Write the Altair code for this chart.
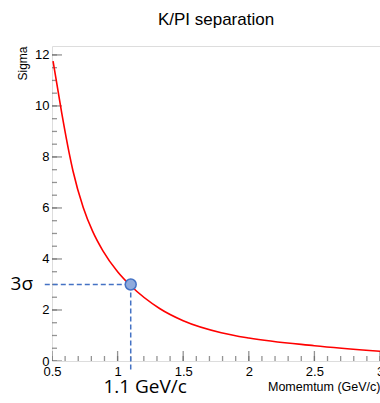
import altair as alt
import pandas as pd

# Curve
momentum = [0.508, 0.575, 0.631, 0.66, 0.738, 0.81, 0.887, 1.0, 1.1, 1.32, 1.5, 1.79, 2.0, 2.5, 3.0]
sigma = [11.76, 9.7, 8.15, 7.45, 6.02, 5.08, 4.33, 3.5, 2.95, 2.06, 1.58, 1.11, 0.9, 0.6, 0.38]

# Marked point and guides
mark_p = [1.1]
mark_s = [3.0]
hguide_x = [0.445, 1.1]
hguide_y = [3.0, 3.0]
vguide_x = [1.1, 1.1]
vguide_y = [3.0, -0.35]

# Ticks
x_major = [0.5, 1.0, 1.5, 2.0, 2.5, 3.0]
x_minor = [round(0.5 + 0.1 * i, 2) for i in range(26)]
y_major = [0, 2, 4, 6, 8, 10, 12]
y_minor = [0.5 * i for i in range(25)]

# Annotations
ann_text = ["3σ", "1.1 GeV/c"]
ann_x = [0.27, 1.21]
ann_y = [3.0, -1.02]

X_DOM = [0.5, 3.0]
Y_DOM = [0, 12.35]
xs = alt.Scale(domain=X_DOM, nice=False, zero=False)
ys = alt.Scale(domain=Y_DOM, nice=False, zero=False)

curve_df = pd.DataFrame({"p": momentum, "s": sigma})

curve = alt.Chart(curve_df).mark_line(color="#ff0000", strokeWidth=1.6, interpolate="monotone").encode(
    x=alt.X("p:Q", scale=xs, title="Momemtum (GeV/c)",
            axis=alt.Axis(values=x_major, format="~g", ticks=False, domain=False, grid=False,
                          labelFlush=False, labelPadding=4, titleAnchor="end", titlePadding=2,
                          labelFontSize=13, titleFontSize=12.5, labelFont="Liberation Sans",
                          titleFont="Liberation Sans", titleFontWeight="normal",
                          labelColor="#000", titleColor="#000")),
    y=alt.Y("s:Q", scale=ys, title="Sigma",
            axis=alt.Axis(values=y_major, ticks=False, domain=False, grid=False,
                          labelPadding=3, titleAnchor="end", titlePadding=5,
                          labelFontSize=13, titleFontSize=12, labelFont="Liberation Sans",
                          titleFont="Liberation Sans", titleFontWeight="normal",
                          labelColor="#000", titleColor="#000")),
)

tick_color = "#666666"

ymaj = alt.Chart(pd.DataFrame({"v": y_major})).mark_tick(
    orient="horizontal", size=20, thickness=1.3, color=tick_color, clip=True
).encode(x=alt.datum(0.5, scale=xs), y=alt.Y("v:Q", scale=ys))
ymin = alt.Chart(pd.DataFrame({"v": y_minor})).mark_tick(
    orient="horizontal", size=10, thickness=1.3, color=tick_color, clip=True
).encode(x=alt.datum(0.5, scale=xs), y=alt.Y("v:Q", scale=ys))
xmaj = alt.Chart(pd.DataFrame({"v": x_major})).mark_tick(
    orient="vertical", size=20, thickness=1.3, color=tick_color, clip=True
).encode(x=alt.X("v:Q", scale=xs), y=alt.datum(0, scale=ys))
xmin = alt.Chart(pd.DataFrame({"v": x_minor})).mark_tick(
    orient="vertical", size=10, thickness=1.3, color=tick_color, clip=True
).encode(x=alt.X("v:Q", scale=xs), y=alt.datum(0, scale=ys))

guide_color = "#4472C4"
hguide = alt.Chart(pd.DataFrame({"x": hguide_x, "y": hguide_y})).mark_line(
    color=guide_color, strokeWidth=1.5, strokeDash=[5, 3]
).encode(x=alt.X("x:Q", scale=xs), y=alt.Y("y:Q", scale=ys))
vguide = alt.Chart(pd.DataFrame({"x": vguide_x, "y": vguide_y})).mark_line(
    color=guide_color, strokeWidth=1.5, strokeDash=[5, 3]
).encode(x=alt.X("x:Q", scale=xs), y=alt.Y("y:Q", scale=ys))

pt = alt.Chart(pd.DataFrame({"p": mark_p, "s": mark_s})).mark_point(
    filled=True, size=120, fill="#8FAADC", stroke=guide_color, strokeWidth=1.5, opacity=1
).encode(x=alt.X("p:Q", scale=xs), y=alt.Y("s:Q", scale=ys))

ann = alt.Chart(pd.DataFrame({"t": ann_text, "x": ann_x, "y": ann_y})).mark_text(
    font="Open Sans", fontSize=19, color="#000", align="center", baseline="middle"
).encode(x=alt.X("x:Q", scale=xs), y=alt.Y("y:Q", scale=ys), text="t:N")

chart = alt.layer(ymin, ymaj, xmin, xmaj, curve, hguide, vguide, pt, ann).properties(
    width=328, height=315,
    title=alt.TitleParams("K/PI separation", font="Liberation Sans", fontSize=17,
                          fontWeight="normal", color="#000", anchor="middle", offset=17),
    autosize=alt.AutoSizeParams(type="none"),
    padding={"left": 52, "top": 46, "right": 0, "bottom": 42},
).configure_view(stroke="#555555", strokeWidth=1.5).configure(background="white")

chart.save("out.html", embed_options={"renderer": "svg", "actions": False})
